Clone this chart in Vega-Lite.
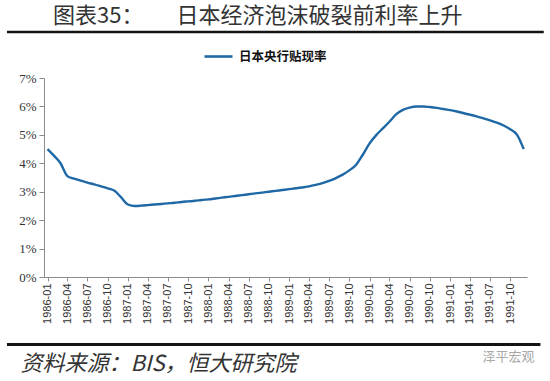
{
  "$schema": "https://vega.github.io/schema/vega-lite/v6.json",
  "width": 483,
  "height": 199,
  "autosize": {"type": "none"},
  "padding": {"left": 44, "top": 78, "right": 23, "bottom": 104},
  "background": "white",
  "config": {"view": {"stroke": null}},
  "title": {
    "text": "图表35：　　日本经济泡沫破裂前利率上升",
    "anchor": "start",
    "frame": "group",
    "dx": 9,
    "offset": 3,
    "font": "Noto Sans CJK SC",
    "fontSize": 22,
    "fontWeight": "normal",
    "color": "#333333"
  },
  "data": {
    "values": [
      {"date": "1986-01-01", "rate": 4.50},
      {"date": "1986-02-01", "rate": 4.25},
      {"date": "1986-03-01", "rate": 4.00},
      {"date": "1986-04-01", "rate": 3.55},
      {"date": "1986-05-01", "rate": 3.46},
      {"date": "1986-06-01", "rate": 3.39},
      {"date": "1986-07-01", "rate": 3.32},
      {"date": "1986-08-01", "rate": 3.26},
      {"date": "1986-09-01", "rate": 3.19},
      {"date": "1986-10-01", "rate": 3.12},
      {"date": "1986-11-01", "rate": 3.03},
      {"date": "1986-12-01", "rate": 2.80},
      {"date": "1987-01-01", "rate": 2.55},
      {"date": "1987-02-01", "rate": 2.50},
      {"date": "1987-03-01", "rate": 2.51},
      {"date": "1987-04-01", "rate": 2.53},
      {"date": "1987-05-01", "rate": 2.55},
      {"date": "1987-06-01", "rate": 2.57},
      {"date": "1987-07-01", "rate": 2.59},
      {"date": "1987-08-01", "rate": 2.61},
      {"date": "1987-09-01", "rate": 2.64},
      {"date": "1987-10-01", "rate": 2.66},
      {"date": "1987-11-01", "rate": 2.68},
      {"date": "1987-12-01", "rate": 2.71},
      {"date": "1988-01-01", "rate": 2.73},
      {"date": "1988-02-01", "rate": 2.76},
      {"date": "1988-03-01", "rate": 2.79},
      {"date": "1988-04-01", "rate": 2.82},
      {"date": "1988-05-01", "rate": 2.85},
      {"date": "1988-06-01", "rate": 2.88},
      {"date": "1988-07-01", "rate": 2.91},
      {"date": "1988-08-01", "rate": 2.94},
      {"date": "1988-09-01", "rate": 2.97},
      {"date": "1988-10-01", "rate": 3.00},
      {"date": "1988-11-01", "rate": 3.03},
      {"date": "1988-12-01", "rate": 3.06},
      {"date": "1989-01-01", "rate": 3.09},
      {"date": "1989-02-01", "rate": 3.12},
      {"date": "1989-03-01", "rate": 3.15},
      {"date": "1989-04-01", "rate": 3.19},
      {"date": "1989-05-01", "rate": 3.24},
      {"date": "1989-06-01", "rate": 3.30},
      {"date": "1989-07-01", "rate": 3.38},
      {"date": "1989-08-01", "rate": 3.48},
      {"date": "1989-09-01", "rate": 3.60},
      {"date": "1989-10-01", "rate": 3.75},
      {"date": "1989-11-01", "rate": 3.95},
      {"date": "1989-12-01", "rate": 4.30},
      {"date": "1990-01-01", "rate": 4.70},
      {"date": "1990-02-01", "rate": 5.00},
      {"date": "1990-03-01", "rate": 5.22},
      {"date": "1990-04-01", "rate": 5.46},
      {"date": "1990-05-01", "rate": 5.72},
      {"date": "1990-06-01", "rate": 5.88},
      {"date": "1990-07-01", "rate": 5.96},
      {"date": "1990-08-01", "rate": 6.00},
      {"date": "1990-09-01", "rate": 6.00},
      {"date": "1990-10-01", "rate": 5.98},
      {"date": "1990-11-01", "rate": 5.95},
      {"date": "1990-12-01", "rate": 5.91},
      {"date": "1991-01-01", "rate": 5.87},
      {"date": "1991-02-01", "rate": 5.82},
      {"date": "1991-03-01", "rate": 5.77},
      {"date": "1991-04-01", "rate": 5.71},
      {"date": "1991-05-01", "rate": 5.65},
      {"date": "1991-06-01", "rate": 5.58},
      {"date": "1991-07-01", "rate": 5.51},
      {"date": "1991-08-01", "rate": 5.43},
      {"date": "1991-09-01", "rate": 5.33},
      {"date": "1991-10-01", "rate": 5.20},
      {"date": "1991-11-01", "rate": 5.00},
      {"date": "1991-12-01", "rate": 4.50}
    ]
  },
  "layer": [
    {
      "mark": {"type": "line", "interpolate": "monotone", "strokeWidth": 2.4},
      "encoding": {
        "x": {
          "field": "date",
          "type": "temporal",
          "scale": {"type": "utc", "domain": ["1985-12-16", "1991-12-16"]},
          "axis": {
            "orient": "bottom",
            "labelExpr": "utcFormat(datum.value, '%Y-%m')",
            "tickCount": {"interval": "month", "step": 3},
            "labelAngle": 270,
            "labelFont": "Liberation Sans",
            "labelFontSize": 11,
            "labelColor": "#333333",
            "labelPadding": 2,
            "labelOverlap": false,
            "labelFlush": false,
            "tickSize": 4,
            "tickColor": "#8c8c8c",
            "domainColor": "#8c8c8c",
            "grid": false,
            "title": null
          }
        },
        "y": {
          "field": "rate",
          "type": "quantitative",
          "scale": {"domain": [0, 7]},
          "axis": {
            "orient": "left",
            "values": [0, 1, 2, 3, 4, 5, 6, 7],
            "labelExpr": "datum.value + '%'",
            "labelFont": "Liberation Serif",
            "labelFontSize": 13,
            "labelColor": "#333333",
            "labelPadding": 3,
            "tickSize": 5,
            "tickColor": "#8c8c8c",
            "domainColor": "#8c8c8c",
            "grid": false,
            "title": null
          }
        },
        "color": {
          "datum": "日本央行贴现率",
          "scale": {"range": ["#1f68a6"]},
          "legend": {
            "orient": "none",
            "legendX": 159,
            "legendY": -37,
            "title": null,
            "symbolType": "stroke",
            "symbolSize": 784,
            "symbolStrokeWidth": 2.6,
            "labelFont": "Noto Sans CJK SC",
            "labelFontSize": 12.5,
            "labelFontWeight": "bold",
            "labelColor": "#111111",
            "labelOffset": 5
          }
        }
      }
    },
    {
      "mark": {"type": "line", "strokeOpacity": 0},
      "encoding": {
        "x": {
          "field": "date",
          "type": "temporal",
          "axis": {
            "orient": "top",
            "offset": 45,
            "domain": false,
            "ticks": false,
            "labels": false,
            "grid": false,
            "title": "泽平宏观",
            "titleX": 438,
            "titleY": 323,
            "titleAlign": "left",
            "titleBaseline": "middle",
            "titleFont": "Noto Sans CJK SC",
            "titleFontSize": 13,
            "titleFontWeight": "normal",
            "titleColor": "#a8a8a8"
          }
        }
      }
    },
    {
      "mark": {"type": "line", "strokeOpacity": 0},
      "encoding": {
        "x": {
          "field": "date",
          "type": "temporal",
          "axis": {
            "orient": "bottom",
            "offset": 66,
            "domain": false,
            "ticks": false,
            "labels": false,
            "grid": false,
            "title": "资料来源：BIS，恒大研究院",
            "titleX": -24,
            "titleY": 20,
            "titleAlign": "left",
            "titleBaseline": "middle",
            "titleFont": "Noto Sans CJK SC",
            "titleFontSize": 22,
            "titleFontWeight": "normal",
            "titleFontStyle": "italic",
            "titleColor": "#333333"
          }
        }
      }
    },
    {
      "data": {"values": [{}]},
      "mark": {"type": "rule", "strokeWidth": 2.5, "stroke": "#141414", "clip": false},
      "encoding": {
        "x": {"datum": {"year": 1985, "month": 7, "date": 1, "utc": true}, "type": "temporal", "axis": null},
        "x2": {"datum": {"year": 1992, "month": 3, "date": 1, "utc": true}},
        "y": {"datum": 8.62, "type": "quantitative", "axis": null}
      }
    },
    {
      "data": {"values": [{}]},
      "mark": {"type": "rule", "strokeWidth": 3, "stroke": "#141414", "clip": false},
      "encoding": {
        "x": {"datum": {"year": 1985, "month": 7, "date": 1, "utc": true}, "type": "temporal", "axis": null},
        "x2": {"datum": {"year": 1992, "month": 2, "date": 15, "utc": true}},
        "y": {"datum": -2.37, "type": "quantitative", "axis": null}
      }
    }
  ],
  "resolve": {"axis": {"x": "independent", "y": "independent"}}
}
